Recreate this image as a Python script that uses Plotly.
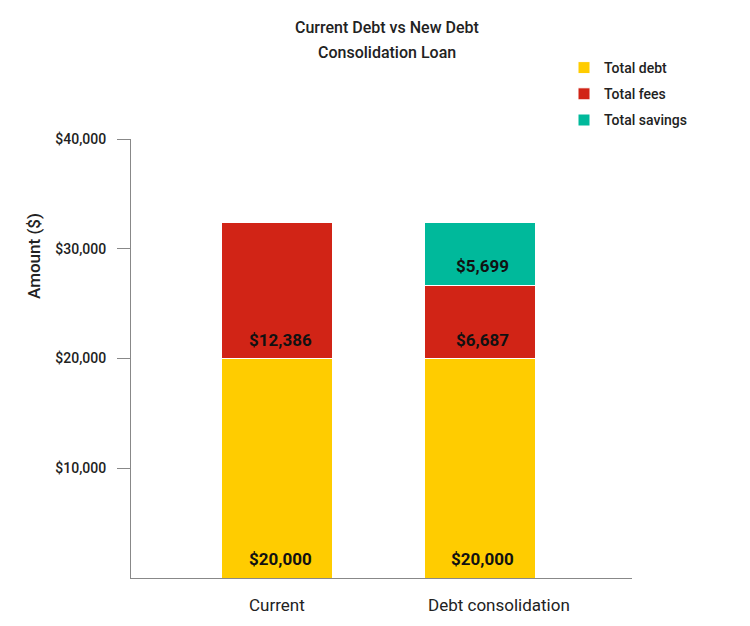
import plotly.graph_objects as go

categories = ["Current", "Debt consolidation"]
total_debt = [20000, 20000]
total_fees = [12386, 6687]
total_savings = [None, 5699]
series_names = ["Total debt", "Total fees", "Total savings"]
colors = ["#FFCC00", "#D12416", "#00B99B"]
y_ticks = [10000, 20000, 30000, 40000]
y_tick_labels = ["$10,000", "$20,000", "$30,000", "$40,000"]

FONT = "Roboto"
series = [total_debt, total_fees, total_savings]

# page body has an 8px margin: offset all pixel targets by it
W, H = 742, 618
L, T, R, B = 123, 131, 118, 48
PH = H - T - B
PW = W - L - R


def py(pix):  # reference pixel y -> paper y
    return (578 - pix) / PH


def px(pix):  # reference pixel x -> paper x
    return (pix - 131) / PW


fig = go.Figure()
for name, vals, col in zip(series_names, series, colors):
    fig.add_trace(go.Bar(
        x=categories, y=vals, name=name, width=0.55,
        marker=dict(color=col, line=dict(color="white", width=1)),
        legendgroup=name, hoverinfo="skip",
    ))

annotations = []
for ci, cat in enumerate(categories):
    base = 0
    for vals in series:
        v = vals[ci]
        if v is None:
            continue
        annotations.append(dict(
            x=cat, y=base, xref="x", yref="y", text=f"${v:,.0f}",
            showarrow=False, xanchor="center", yanchor="bottom", yshift=7, xshift=3,
            font=dict(family=FONT, size=17, color="#111", weight=700),
        ))
        base += v

# category labels (the second one sits a little right of its bar in the original)
label_shift = [0, 19]
for cat, sh in zip(categories, label_shift):
    annotations.append(dict(
        x=cat, y=0, xref="x", yref="paper", text=cat, showarrow=False,
        xanchor="center", yanchor="middle", yshift=-27, xshift=sh,
        font=dict(family=FONT, size=17, color="#222"),
    ))

annotations += [
    dict(x=px(387), y=py(27), xref="paper", yref="paper", text="Current Debt vs New Debt",
         showarrow=False, xanchor="center", yanchor="middle",
         font=dict(family=FONT, size=16, color="#222", weight=500)),
    dict(x=px(387), y=py(53), xref="paper", yref="paper", text="Consolidation Loan",
         showarrow=False, xanchor="center", yanchor="middle",
         font=dict(family=FONT, size=16, color="#222", weight=500)),
    dict(x=px(34), y=py(256), xref="paper", yref="paper", text="Amount ($)",
         showarrow=False, textangle=-90, xanchor="center", yanchor="middle",
         font=dict(family=FONT, size=17, color="#222", weight=500)),
]

fig.update_layout(
    width=W, height=H,
    margin=dict(l=L, r=R, t=T, b=B, autoexpand=False),
    paper_bgcolor="white", plot_bgcolor="white",
    barmode="stack",
    font=dict(family=FONT, color="#222"),
    showlegend=True,
    legend=dict(x=px(564), y=py(52), xanchor="left", yanchor="top",
                traceorder="grouped", tracegroupgap=5,
                font=dict(family=FONT, size=14, color="#222", weight=500),
                bgcolor="rgba(0,0,0,0)"),
    xaxis=dict(range=[-0.72, 1.75], showline=True, linecolor="#888", linewidth=1,
               ticks="", showticklabels=False,
               showgrid=False, zeroline=False, fixedrange=True),
    yaxis=dict(range=[0, 40000], tickvals=y_ticks, ticktext=y_tick_labels,
               showline=True, linecolor="#888", linewidth=1, ticks="outside",
               ticklen=13, tickcolor="#888", ticklabelstandoff=8,
               tickfont=dict(family=FONT, size=14, color="#222", weight=500),
               showgrid=False, zeroline=False, fixedrange=True),
    annotations=annotations,
)

fig.write_html("out.html")
